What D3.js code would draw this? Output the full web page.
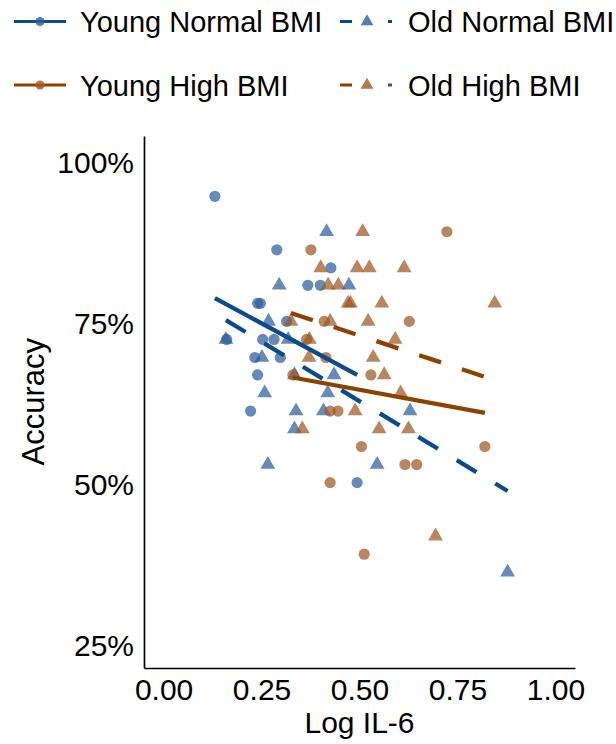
<!DOCTYPE html>
<html><head><meta charset="utf-8">
<script src="https://cdn.jsdelivr.net/npm/d3@7"></script>
<style>body{margin:0;background:#fff}text{font-family:"Liberation Sans",Arial,sans-serif;fill:#000}</style>
</head><body>
<svg id="c" width="616" height="744"></svg>
<script>
// ---- data ----
const groups = ["Young Normal BMI","Old Normal BMI","Young High BMI","Old High BMI"];
const groupColor = ["#2c5d9e","#2c5d9e","#9c5722","#9c5722"];
const lineColor = ["#0b4a8b","#0b4a8b","#8a4300","#8a4300"];
const groupShape = ["circle","triangle","circle","triangle"];
const groupDash = [false,true,false,true];

const youngNormalX = [0.131,0.289,0.427,0.368,0.400,0.240,0.247,0.314,0.161,0.253,0.282,0.233,0.298,0.240,0.222,0.494];
const youngNormalY = [0.944,0.861,0.833,0.806,0.806,0.778,0.778,0.750,0.722,0.722,0.722,0.694,0.694,0.667,0.611,0.500];

const oldNormalX = [0.416,0.295,0.473,0.268,0.159,0.318,0.251,0.334,0.435,0.258,0.419,0.338,0.408,0.629,0.334,0.266,0.545,0.878];
const oldNormalY = [0.889,0.806,0.806,0.750,0.722,0.722,0.694,0.667,0.667,0.639,0.639,0.611,0.611,0.611,0.583,0.528,0.528,0.361];

const youngHighX = [0.376,0.723,0.410,0.627,0.365,0.414,0.330,0.529,0.425,0.445,0.505,0.820,0.616,0.646,0.425,0.512];
const youngHighY = [0.861,0.889,0.750,0.750,0.722,0.694,0.667,0.667,0.611,0.611,0.556,0.556,0.528,0.528,0.500,0.389];

const oldHighX = [0.508,0.401,0.494,0.525,0.614,0.420,0.446,0.471,0.477,0.557,0.845,0.325,0.425,0.522,0.372,0.591,0.371,0.535,0.563,0.605,0.489,0.354,0.550,0.625,0.694];
const oldHighY = [0.889,0.833,0.833,0.833,0.833,0.806,0.806,0.778,0.778,0.778,0.778,0.750,0.750,0.750,0.722,0.722,0.694,0.694,0.667,0.639,0.611,0.583,0.583,0.583,0.417];

// fitted regression lines (start/end in data units)
const fitX0 = [0.131,0.159,0.330,0.325];
const fitY0 = [0.786,0.752,0.663,0.763];
const fitX1 = [0.494,0.878,0.820,0.845];
const fitY1 = [0.667,0.487,0.608,0.659];

const xTicks = [0,0.25,0.5,0.75,1];
const yTicks = [0.25,0.5,0.75,1];
const xTitle = "Log IL-6";
const yTitle = "Accuracy";

// ---- drawing ----
const svg = d3.select("#c");
const x = d3.scaleLinear().domain([-0.05,1.05]).range([144,575]);
const y = d3.scaleLinear().domain([0.2125,1.0375]).range([668,136]);

const seriesX = [youngNormalX, oldNormalX, youngHighX, oldHighX];
const seriesY = [youngNormalY, oldNormalY, youngHighY, oldHighY];

const tri = d3.symbol().type(d3.symbolTriangle).size(95)();
const pts = svg.append("g");
seriesX.forEach((xs,gi)=>{
  xs.forEach((v,i)=>{
    const cx = x(v), cy = y(seriesY[gi][i]);
    if (groupShape[gi]==="circle") {
      pts.append("circle").attr("cx",cx).attr("cy",cy).attr("r",5.6)
        .attr("fill",groupColor[gi]).attr("fill-opacity",0.72);
    } else {
      pts.append("path").attr("d",tri).attr("transform",`translate(${cx},${cy})`)
        .attr("fill",groupColor[gi]).attr("fill-opacity",0.72);
    }
  });
});

// axes
const xAxis = d3.axisBottom(x).tickValues(xTicks).tickSize(0).tickPadding(11).tickFormat(d3.format(".2f"));
const yAxis = d3.axisLeft(y).tickValues(yTicks).tickSize(0).tickPadding(10).tickFormat(d3.format(".0%"));
const gx = svg.append("g").attr("transform","translate(0,668)").call(xAxis);
const gy = svg.append("g").attr("transform","translate(144,0)").call(yAxis);
[gx,gy].forEach(g=>{
  g.select(".domain").attr("stroke","#000").attr("stroke-width",1.7);
  g.selectAll("text").attr("font-size",30).attr("fill","#000").style("font-family","'Liberation Sans',Arial,sans-serif");
});
gy.selectAll("text").attr("dy","0.4em");

// fit lines
const lines = svg.append("g");
groups.forEach((g,gi)=>{
  lines.append("line")
    .attr("x1",x(fitX0[gi])).attr("y1",y(fitY0[gi]))
    .attr("x2",x(fitX1[gi])).attr("y2",y(fitY1[gi]))
    .attr("stroke",lineColor[gi]).attr("stroke-width",4.3)
    .attr("stroke-dasharray",groupDash[gi]?"23,22":null);
});

// titles
svg.append("text").attr("x",359.5).attr("y",733).attr("text-anchor","middle").attr("font-size",30).text(xTitle);
svg.append("text").attr("transform","translate(44,401.7) rotate(-90)").attr("text-anchor","middle").attr("font-size",31).text(yTitle);

// legend
const legPos = [[14,21.5],[340,21.5],[14,85],[340,85]];
groups.forEach((g,gi)=>{
  const [lx,ly] = legPos[gi];
  const lg = svg.append("g").attr("transform",`translate(${lx},${ly})`);
  lg.append("line").attr("x1",0).attr("x2",52).attr("y1",0).attr("y2",0)
    .attr("stroke",lineColor[gi]).attr("stroke-width",3)
    .attr("stroke-dasharray",groupDash[gi]?"12,36":null);
  if (groupShape[gi]==="circle") {
    lg.append("circle").attr("cx",26).attr("cy",0).attr("r",4.6).attr("fill",groupColor[gi]).attr("fill-opacity",0.8);
  } else {
    lg.append("path").attr("d",d3.symbol().type(d3.symbolTriangle).size(70)()).attr("transform","translate(27,0)")
      .attr("fill",groupColor[gi]).attr("fill-opacity",0.8);
  }
  lg.append("text").attr("x",gi%2===0?66:68).attr("y",10.5).attr("font-size",29).text(g);
});
</script>
</body></html>
